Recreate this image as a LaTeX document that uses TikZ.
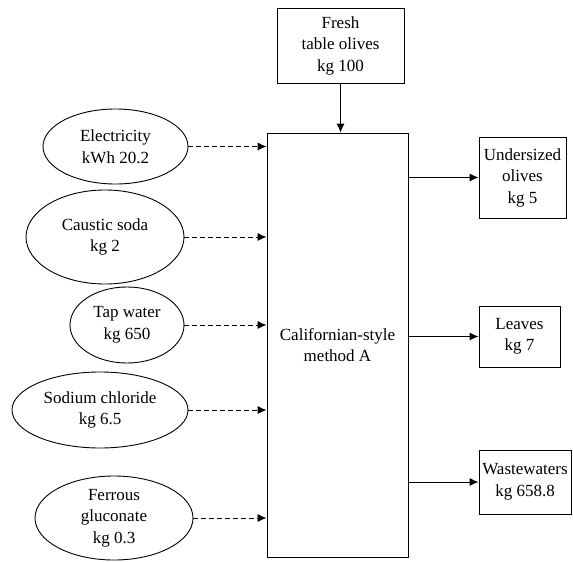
\documentclass[tikz,border=0pt]{standalone}
\usepackage{fontspec}
\setmainfont{Liberation Serif}
\usetikzlibrary{shapes.geometric,arrows.meta}
\begin{document}
\begin{tikzpicture}[x=1pt,y=-1pt,
  every node/.style={font=\fontsize{17}{21.5}\selectfont, align=center, inner sep=0pt},
  boxnode/.style={draw, line width=0.9pt, rectangle},
  ellnode/.style={draw, line width=0.9pt, ellipse},
  flow/.style={line width=0.9pt, -{Latex[length=9pt,width=8pt]}},
  dflow/.style={flow, dashed, dash pattern=on 5pt off 3pt}]
\useasboundingbox (0,0) rectangle (573,562);
\node[boxnode, minimum width=141pt, minimum height=424pt] (main) at (337.5,345) {Californian-style\\method A};
\node[boxnode, minimum width=127pt, minimum height=75pt] (fresh) at (340.5,45.5) {Fresh\\table olives\\kg 100};
\node[boxnode, minimum width=87pt, minimum height=81pt] (o1) at (522.5,177.5) {Undersized\\olives\\kg 5};
\node[boxnode, minimum width=81pt, minimum height=61pt] (o2) at (519.5,336.5) {Leaves\\kg 7};
\node[boxnode, minimum width=92pt, minimum height=64pt] (o3) at (525,482) {Wastewaters\\kg 658.8};
\node[ellnode, minimum width=145pt, minimum height=75pt] (e1) at (115.5,146.5) {Electricity\\kWh 20.2};
\node[ellnode, minimum width=158pt, minimum height=94pt] (e2) at (105,237) {Caustic soda\\kg 2};
\node[ellnode, minimum width=114pt, minimum height=76pt] (e3) at (127,325) {Tap water\\kg 650};
\node[ellnode, minimum width=176pt, minimum height=76pt] (e4) at (100,410) {Sodium chloride\\kg 6.5};
\node[ellnode, minimum width=158pt, minimum height=84pt] (e5) at (114,518) {Ferrous\\gluconate\\kg 0.3};
\draw[flow] (fresh.south) -- (fresh.south |- main.north);
\foreach \e in {e1,e2,e3,e4,e5} {
  \draw[dflow] (\e.east) -- (\e.east -| main.west);
}
\foreach \o in {o1,o2,o3} {
  \draw[flow] (main.east |- \o.west) -- (\o.west);
}
\end{tikzpicture}
\end{document}
